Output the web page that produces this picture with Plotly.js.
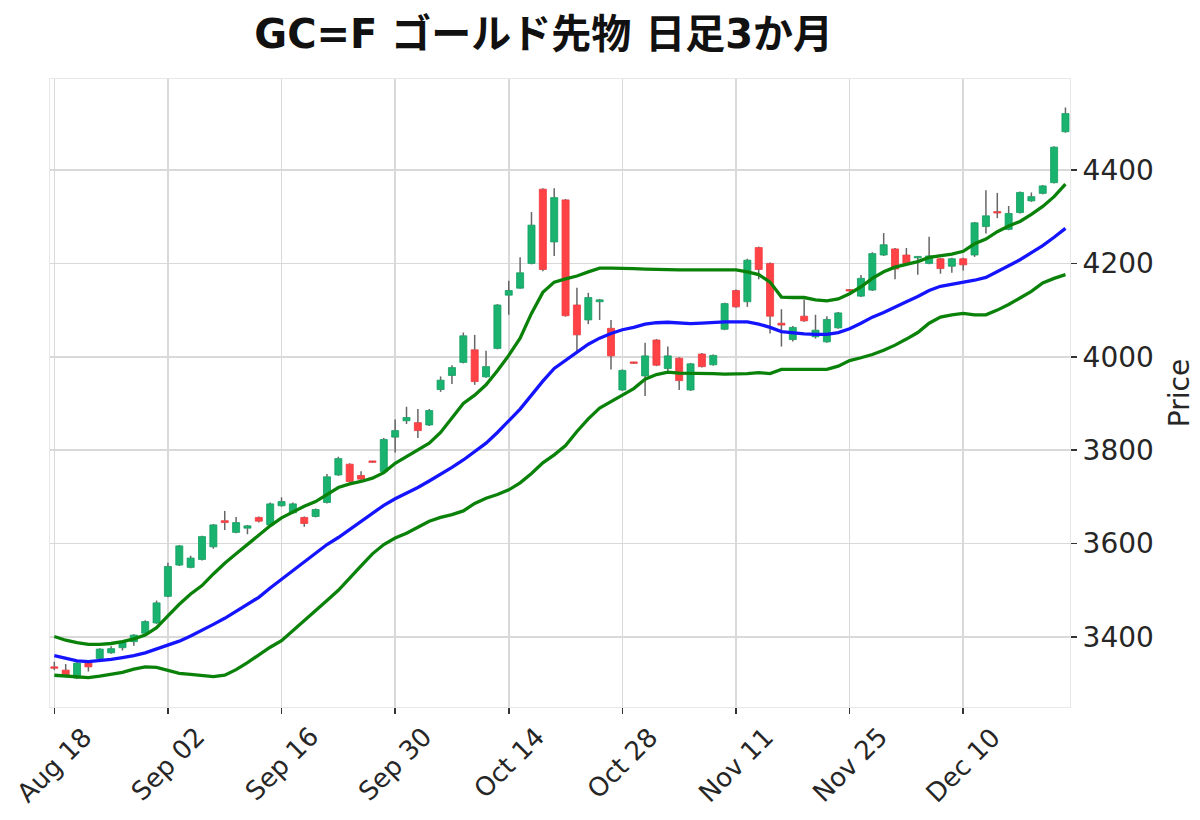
<!DOCTYPE html>
<html>
<head>
<meta charset="utf-8">
<script src="https://cdn.plot.ly/plotly-3.0.1.min.js"></script>
<style>html,body{margin:0;padding:0;background:#fff;}#chart{width:1200px;height:820px;}</style>
</head>
<body>
<div id="chart"></div>
<script>
// Trading-day index labels (x axis ticks)
const tickIdx = [0, 10, 20, 30, 40, 50, 60, 70, 80];
const tickLabels = ['Aug 18', 'Sep 02', 'Sep 16', 'Sep 30', 'Oct 14', 'Oct 28', 'Nov 11', 'Nov 25', 'Dec 10'];

const openP = [3336,3329,3312,3344,3354,3366,3377,3390,3408,3430,
  3487,3554,3549,3566,3593,3649,3624,3633,3656,3640,
  3681,3666,3656,3658,3688,3747,3770,3746,3776,3754,
  3828,3863,3859,3854,3930,3960,3988,4015,3957,4018,
  4132,4147,4200,4359,4246,4336,4111,4079,4118,4061,
  3929,3988,3959,4036,3975,3997,3929,4006,3983,4059,
  4142,4118,4234,4200,4072,4037,4087,4043,4032,4062,
  4143,4130,4143,4218,4231,4218,4212,4200,4210,4194,
  4210,4218,4279,4310,4273,4309,4334,4350,4373,4482];
const highP = [3347,3342,3346,3346,3376,3380,3390,3406,3436,3478,
  3559,3597,3574,3617,3642,3670,3657,3640,3658,3688,
  3699,3688,3658,3675,3749,3786,3772,3755,3777,3826,
  3866,3893,3888,3888,3958,3982,4052,4047,4013,4113,
  4163,4213,4310,4361,4361,4338,4148,4137,4124,4079,
  3973,3989,4030,4038,4022,3999,3987,4008,4005,4116,
  4144,4210,4236,4202,4102,4066,4123,4090,4087,4096,
  4145,4175,4224,4265,4233,4233,4216,4257,4212,4212,
  4212,4289,4357,4351,4323,4354,4352,4368,4451,4534];
const lowP = [3329,3317,3310,3326,3352,3364,3371,3381,3406,3428,
  3485,3552,3547,3564,3589,3629,3622,3620,3645,3638,
  3679,3664,3636,3656,3686,3745,3731,3735,3773,3752,
  3795,3856,3826,3852,3925,3942,3986,3940,3955,4016,
  4090,4145,4198,4183,4216,4086,4011,4070,4079,3973,
  3927,3985,3916,3980,3963,3929,3927,3977,3981,4057,
  4105,4107,4166,4050,4022,4033,4075,4039,4030,4060,
  4139,4128,4141,4216,4166,4198,4176,4198,4178,4180,
  4185,4214,4264,4297,4271,4307,4332,4348,4371,4480];
const closeP = [3333,3319,3344,3336,3374,3375,3388,3404,3433,3473,
  3551,3595,3569,3615,3640,3645,3645,3638,3648,3685,
  3690,3685,3643,3673,3743,3782,3733,3738,3774,3823,
  3842,3870,3842,3885,3950,3977,4045,3947,3979,4111,
  4142,4180,4282,4187,4341,4088,4047,4127,4122,4002,
  3971,3986,4002,3982,4002,3949,3985,3979,4003,4114,
  4107,4207,4187,4087,4068,4063,4077,4057,4080,4094,
  4141,4168,4221,4240,4188,4200,4215,4216,4189,4210,
  4197,4287,4302,4308,4307,4352,4343,4366,4449,4521];

// Bollinger bands
const upperBand = [3401,3393,3388,3384,3384,3386,3390,3396,3404,3420,
  3445,3470,3492,3510,3535,3558,3578,3598,3618,3638,
  3655,3668,3680,3690,3705,3720,3728,3733,3740,3752,
  3772,3787,3800,3815,3838,3868,3900,3918,3940,3970,
  4003,4040,4093,4138,4160,4167,4173,4182,4190,4190,
  4190,4189,4188,4187,4186,4186,4186,4186,4186,4185,
  4186,4182,4176,4160,4128,4127,4127,4122,4120,4124,
  4135,4150,4168,4182,4192,4198,4204,4213,4216,4220,
  4226,4242,4252,4268,4280,4290,4305,4322,4343,4370];
const midBand = [3360,3354,3349,3347,3349,3352,3356,3360,3366,3374,
  3383,3391,3402,3414,3427,3440,3455,3469,3485,3505,
  3524,3542,3560,3580,3598,3613,3630,3648,3665,3682,
  3696,3708,3720,3734,3748,3763,3779,3797,3815,3838,
  3862,3888,3918,3948,3975,3993,4010,4027,4040,4050,
  4058,4063,4070,4073,4074,4072,4071,4072,4074,4075,
  4075,4075,4070,4063,4054,4051,4049,4048,4048,4052,
  4060,4072,4085,4095,4107,4118,4129,4142,4151,4155,
  4160,4164,4170,4182,4195,4208,4222,4238,4256,4275];
const lowerBand = [3318,3316,3314,3313,3316,3320,3324,3331,3336,3335,
  3328,3322,3320,3318,3315,3318,3330,3345,3362,3378,
  3392,3413,3436,3456,3478,3500,3525,3552,3578,3598,
  3612,3622,3635,3648,3656,3662,3670,3686,3697,3705,
  3715,3730,3750,3773,3790,3810,3840,3867,3890,3905,
  3918,3932,3952,3962,3967,3965,3965,3964,3964,3963,
  3963,3964,3966,3964,3973,3973,3972,3972,3973,3980,
  3992,3998,4005,4014,4025,4038,4052,4072,4085,4090,
  4093,4090,4090,4100,4112,4126,4140,4158,4168,4176];

const yTicks = [3400, 3600, 3800, 4000, 4200, 4400];

const UP = '#19b26e', DOWN = '#fe4246', UP_EDGE = '#12a062', DOWN_EDGE = '#f03a3e', WICK = '#666666';

const idx = openP.map((_, i) => i);
const bodyLow = openP.map((o, i) => Math.min(o, closeP[i]));
const bodyHigh = openP.map((o, i) => Math.max(o, closeP[i]));
const bodyH = openP.map((o, i) => Math.max(Math.abs(closeP[i] - o), 3));
const isUp = openP.map((o, i) => closeP[i] >= o);

const wx = [], wy = [];
idx.forEach(i => {
  if (highP[i] > bodyHigh[i]) { wx.push(i, i, null); wy.push(bodyHigh[i], highP[i], null); }
  if (lowP[i] < bodyLow[i]) { wx.push(i, i, null); wy.push(lowP[i], bodyLow[i], null); }
});

const traces = [
  { type: 'scatter', mode: 'lines', x: wx, y: wy, line: { color: WICK, width: 1.5 }, hoverinfo: 'skip', showlegend: false },
  { type: 'bar', x: idx, y: bodyH, base: bodyLow, width: 0.62,
    marker: { color: isUp.map(u => u ? UP : DOWN), line: { color: isUp.map(u => u ? UP_EDGE : DOWN_EDGE), width: 0.8 } },
    showlegend: false },
  { type: 'scatter', mode: 'lines', x: idx, y: upperBand, line: { color: '#0a820a', width: 3.3 }, showlegend: false },
  { type: 'scatter', mode: 'lines', x: idx, y: midBand, line: { color: '#1414ff', width: 3.3 }, showlegend: false },
  { type: 'scatter', mode: 'lines', x: idx, y: lowerBand, line: { color: '#0a820a', width: 3.3 }, showlegend: false }
];

const TXT = '#262626';
const xLabelFont = { family: 'DejaVu Sans, sans-serif', size: 26, color: TXT };
const yLabelFont = { family: 'DejaVu Sans, sans-serif', size: 28, color: TXT };

// Centered, rotated date labels (matplotlib style: label centered under its tick)
const xLabelAnnotations = tickIdx.map((t, k) => ({
  x: t, xref: 'x', y: 0, yref: 'paper',
  text: tickLabels[k], showarrow: false, textangle: -45,
  xanchor: 'center', yanchor: 'top', yshift: -12,
  font: xLabelFont
}));

const layout = {
  width: 1200, height: 820,
  margin: { l: 50, r: 130, t: 79, b: 113 },
  paper_bgcolor: '#ffffff', plot_bgcolor: '#ffffff',
  showlegend: false,
  bargap: 0,
  title: {
    text: 'GC=F ゴールド先物 日足3か月',
    x: 0.484, xanchor: 'center', xref: 'paper',
    y: 0.958, yanchor: 'middle', yref: 'container',
    font: { family: 'DejaVu Sans, Noto Sans CJK JP, sans-serif', size: 40, weight: 'bold', color: '#111111' }
  },
  xaxis: {
    range: [-0.38, 89.4],
    tickmode: 'array', tickvals: tickIdx, ticktext: tickLabels,
    showticklabels: false,
    showgrid: true, gridcolor: '#d9d9d9', gridwidth: 1.5,
    ticks: 'outside', ticklen: 6, tickwidth: 1.5, tickcolor: '#333333',
    showline: true, mirror: true, linecolor: '#e8e8e8', linewidth: 1,
    zeroline: false, fixedrange: true
  },
  yaxis: {
    side: 'right',
    range: [3250, 4595],
    tickmode: 'array', tickvals: yTicks, ticktext: yTicks.map(String),
    tickfont: yLabelFont,
    showgrid: true, gridcolor: '#d9d9d9', gridwidth: 1.5,
    ticks: 'outside', ticklen: 6, tickwidth: 1.5, tickcolor: '#333333',
    showline: true, mirror: true, linecolor: '#e8e8e8', linewidth: 1,
    zeroline: false,
    title: { text: 'Price', font: { family: 'DejaVu Sans, sans-serif', size: 28, color: TXT }, standoff: 16 }
  },
  annotations: xLabelAnnotations
};

Plotly.newPlot('chart', traces, layout, { displayModeBar: false, staticPlot: true });
</script>
</body>
</html>
